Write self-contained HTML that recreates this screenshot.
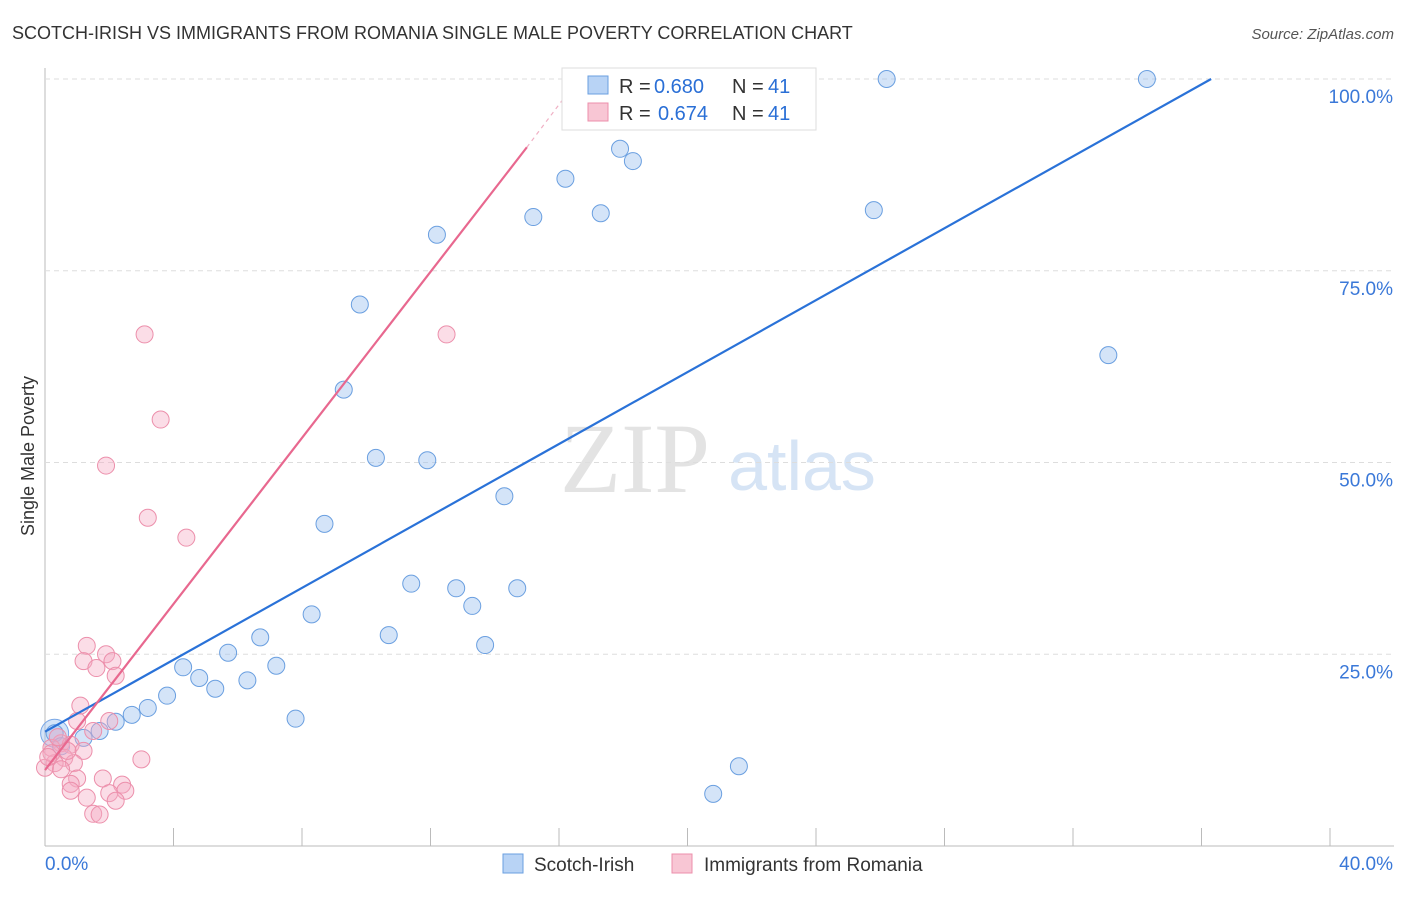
<!DOCTYPE html>
<html><head><meta charset="utf-8"><style>
body{margin:0;background:#fff;font-family:"Liberation Sans",sans-serif;}
svg text{font-family:"Liberation Sans",sans-serif;}
</style></head><body>
<svg id="chart" width="1406" height="892" xmlns="http://www.w3.org/2000/svg">
<text x="12" y="39" font-size="18" fill="#333">SCOTCH-IRISH VS IMMIGRANTS FROM ROMANIA SINGLE MALE POVERTY CORRELATION CHART</text>
<text x="1394" y="39" font-size="15" fill="#555" font-style="italic" text-anchor="end">Source: ZipAtlas.com</text>
<text x="34" y="456" font-size="18" fill="#333" transform="rotate(-90 34 456)" text-anchor="middle">Single Male Poverty</text>
<text x="635" y="492" font-size="100" fill="#e3e3e3" style="font-family:'Liberation Serif',serif" text-anchor="middle">ZIP</text>
<text x="802" y="490" font-size="70" fill="#d6e4f5" text-anchor="middle">atlas</text>
<g id="axes"></g>
<g id="marks"></g>
<g>
<rect x="562" y="68" width="254" height="62" fill="#fff" stroke="#ddd"/>
<rect x="588" y="76" width="20" height="18" fill="#b8d3f5" stroke="#6a9fe0"/>
<text x="619" y="93" font-size="20" fill="#333">R =</text>
<text x="654" y="93" font-size="20" fill="#2a6fd6">0.680</text>
<text x="732" y="93" font-size="20" fill="#333">N =</text>
<text x="768" y="93" font-size="20" fill="#2a6fd6">41</text>
<rect x="588" y="103" width="20" height="18" fill="#f8c6d4" stroke="#ec8fab"/>
<text x="619" y="120" font-size="20" fill="#333">R =</text>
<text x="658" y="120" font-size="20" fill="#2a6fd6">0.674</text>
<text x="732" y="120" font-size="20" fill="#333">N =</text>
<text x="768" y="120" font-size="20" fill="#2a6fd6">41</text>
</g>
<g>
<rect x="503" y="854" width="20" height="19" fill="#b8d3f5" stroke="#6a9fe0"/>
<text x="534" y="871" font-size="19" fill="#333">Scotch-Irish</text>
<rect x="672" y="854" width="20" height="19" fill="#f8c6d4" stroke="#ec8fab"/>
<text x="704" y="871" font-size="19" fill="#333">Immigrants from Romania</text>
</g>
</svg>
<script>
const xTicks=[0,4,8,12,16,20,24,28,32,36,40];
const yTicks=[25,50,75,100];
const blueX=[26.2,34.3,17.9,18.3,16.2,15.2,17.3,25.8,12.2,9.8,33.1,9.3,10.3,11.9,14.3,8.7,11.4,12.8,14.7,13.3,8.3,10.7,13.7,6.7,5.7,7.2,4.3,4.8,6.3,5.3,3.8,3.2,2.7,7.8,2.2,1.7,0.3,1.2,21.6,20.8,0.5];
const blueY=[100,100,90.9,89.3,87,82,82.5,82.9,79.7,70.6,64,59.5,50.6,50.3,45.6,42,34.2,33.6,33.6,31.3,30.2,27.5,26.2,27.2,25.2,23.5,23.3,21.9,21.6,20.5,19.6,18,17.1,16.6,16.2,15,14.7,14.1,10.4,6.8,13];
const pinkX=[3.1,12.5,3.6,1.9,3.2,4.4,1.3,1.9,1.2,2.1,1.6,2.2,1.1,1.0,2.0,1.5,0.5,0.2,0.8,1.2,0.6,0.3,0,0.9,3.0,1.0,1.8,0.5,0.8,2.4,2.5,2.0,0.8,1.3,2.2,1.5,1.7,0.2,0.4,0.1,0.7];
const pinkY=[66.7,66.7,55.6,49.6,42.8,40.2,26.1,25,24.1,24.1,23.2,22.2,18.3,16.3,16.3,15,13.4,12.8,13.2,12.4,11.5,10.8,10.2,10.8,11.3,8.8,8.8,10,8.1,8,7.2,6.9,7.2,6.3,5.9,4.2,4.1,12.1,14.2,11.6,12.4];
const blueLine=[[0,14.9],[36.3,100]];
const pinkLine=[[0,9.9],[15.0,91.1]];
const pinkDash=[[15.0,91.1],[16.6,100]];
const X=v=>45+v*32.125, Y=v=>846-v*7.67;
const ns="http://www.w3.org/2000/svg";
const ax=document.getElementById('axes'), mk=document.getElementById('marks');
function el(t,a,p){const e=document.createElementNS(ns,t);for(const k in a)e.setAttribute(k,a[k]);p.appendChild(e);return e;}
let l=el('line',{x1:45,y1:68,x2:45,y2:846,stroke:'#bbb'},ax);


l=el('line',{x1:45,y1:846,x2:1394,y2:846,stroke:'#bbb'},ax);


xTicks.forEach(t=>{const e=el('line',{x1:X(t),y1:828,x2:X(t),y2:846,stroke:'#bbb'},ax);

});
yTicks.forEach(t=>{const g=el('line',{x1:45,y1:Y(t),x2:1394,y2:Y(t),stroke:'#ddd','stroke-dasharray':'5,4'},ax);


const tx=el('text',{x:1393,y:Y(t)+24,'font-size':19,fill:'#3a78d8','text-anchor':'end'},ax);tx.textContent=t.toFixed(1)+'%';

});
let t0=el('text',{x:45,y:870,'font-size':19,fill:'#3a78d8'},ax);t0.textContent=xTicks[0].toFixed(1)+'%';


let t1=el('text',{x:1393,y:870,'font-size':19,fill:'#3a78d8','text-anchor':'end'},ax);t1.textContent=xTicks[xTicks.length-1].toFixed(1)+'%';


el('circle',{cx:X(0.3),cy:Y(14.7),r:14,fill:'rgba(160,195,240,0.45)',stroke:'#7aa8e6'},mk);
blueX.forEach((v,i)=>{const c=el('circle',{cx:X(v),cy:Y(blueY[i]),r:8.5,fill:'rgba(160,195,240,0.45)',stroke:'#6a9fe0','stroke-width':1},mk);

});
pinkX.forEach((v,i)=>{const c=el('circle',{cx:X(v),cy:Y(pinkY[i]),r:8.5,fill:'rgba(245,170,195,0.4)',stroke:'#ec8fab','stroke-width':1},mk);

});
let bl=el('line',{x1:X(blueLine[0][0]),y1:Y(blueLine[0][1]),x2:X(blueLine[1][0]),y2:Y(blueLine[1][1]),stroke:'#2a72d8','stroke-width':2.2},mk);


let pl=el('line',{x1:X(pinkLine[0][0]),y1:Y(pinkLine[0][1]),x2:X(pinkLine[1][0]),y2:Y(pinkLine[1][1]),stroke:'#e8688f','stroke-width':2.2},mk);


let pd=el('line',{x1:X(pinkDash[0][0]),y1:Y(pinkDash[0][1]),x2:X(pinkDash[1][0]),y2:Y(pinkDash[1][1]),stroke:'#f0b0c4','stroke-width':1.2,'stroke-dasharray':'4,4'},mk);


</script>
</body></html>
